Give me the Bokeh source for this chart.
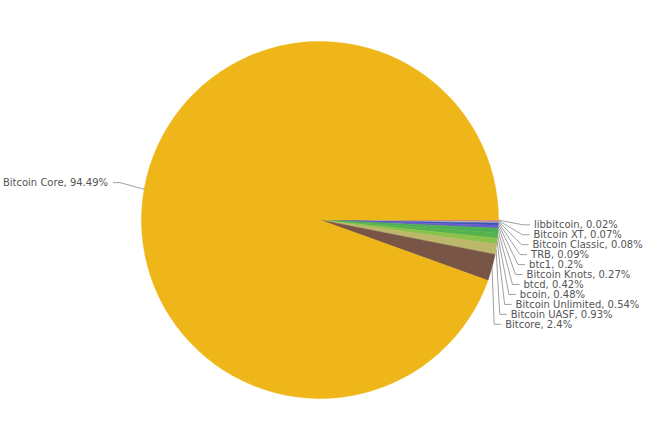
import numpy as np
from bokeh.plotting import figure
from bokeh.models import Range1d, ColumnDataSource
from bokeh.core.properties import value
from bokeh.embed import file_html
from bokeh.resources import INLINE

# Data (clockwise from 3 o'clock)
names = ["libbitcoin", "Bitcoin XT", "Bitcoin Classic", "TRB", "btc1", "Bitcoin Knots",
         "btcd", "bcoin", "Bitcoin Unlimited", "Bitcoin UASF", "Bitcore", "Bitcoin Core"]
pcts = [0.02, 0.07, 0.08, 0.09, 0.2, 0.27, 0.42, 0.48, 0.54, 0.93, 2.4, 94.49]
colors = ["#b4b4b4", "#c48fd2", "#e0505a", "#a6dcd2", "#3f51b5", "#6a5acd",
          "#4caf50", "#55b24f", "#8bc34a", "#bdb76b", "#795548", "#efb619"]

W, H = 645, 440
cx, cy, r = 319.5, 220.5, 178.5
re = 203.0

vals = np.array(pcts, dtype=float)
frac = vals / vals.sum()
cum_end = np.cumsum(frac)
cum_start = cum_end - frac
start = -cum_end * 2 * np.pi
end = -cum_start * 2 * np.pi
mid = -(cum_start + cum_end) * np.pi

p = figure(width=W, height=H, output_backend="svg", toolbar_location=None,
           x_range=Range1d(0, W), y_range=Range1d(0, H),
           x_axis_location=None, y_axis_location=None, min_border=0)
p.grid.visible = False
p.outline_line_color = None
p.background_fill_color = "white"

src = ColumnDataSource(dict(start=start, end=end, color=colors))
p.wedge(x=cx, y=cy, radius=r, start_angle="start", end_angle="end",
        fill_color="color", line_color="color", line_width=0.5,
        direction="anticlock", source=src)

xs, ys, tx, ty, tt, ta = [], [], [], [], [], []
labels = [f"{n}, {v:g}%" for n, v in zip(names, pcts)]
n_right = len(names) - 1
for i in range(n_right):
    ex0, ey0 = cx + r * np.cos(mid[i]), cy + r * np.sin(mid[i])
    dy = 4.8 + i * 9.95
    ly = cy - dy
    ex = cx + np.sqrt(re ** 2 - dy ** 2)
    xs.append([ex0, ex, ex + 7])
    ys.append([ey0, ly, ly])
    tx.append(ex + 11)
    ty.append(ly)
    tt.append(labels[i])
    ta.append("left")

i = len(names) - 1
ex0, ey0 = cx + r * np.cos(mid[i]), cy + r * np.sin(mid[i])
ex, ly = cx + re * np.cos(mid[i]), cy + re * np.sin(mid[i]) + 2.5
xs.append([ex0, ex, ex - 7])
ys.append([ey0, ly, ly])
tx.append(ex - 12)
ty.append(ly)
tt.append(labels[i])
ta.append("right")

p.multi_line(xs=xs, ys=ys, line_color="#a0a0a0", line_width=1)
tsrc = ColumnDataSource(dict(x=tx, y=ty, text=tt, align=ta))
p.text(x="x", y="y", text="text", text_align="align", text_baseline="middle",
       text_font=value("DejaVu Sans"), text_font_size="10px", text_color="#555555",
       source=tsrc)

open("out.html", "w").write(file_html(p, INLINE))
